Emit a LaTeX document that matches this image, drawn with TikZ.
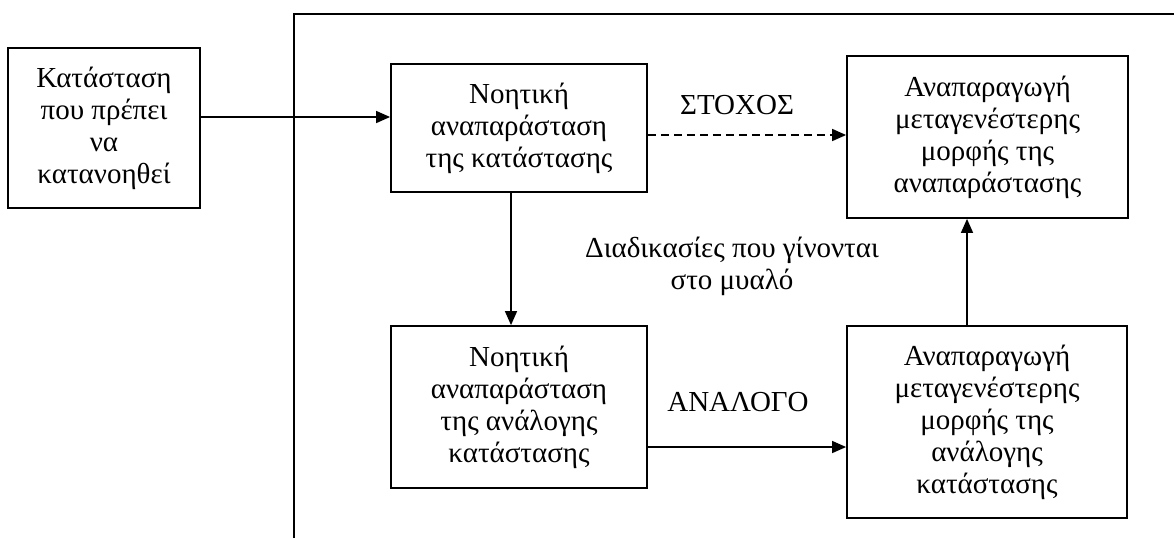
\documentclass[tikz,border=0pt]{standalone}
\usepackage{fontspec}
\setmainfont{Liberation Serif}
\usetikzlibrary{arrows.meta}
\tikzset{
  box/.style={draw, line width=1.8pt, inner sep=0pt, align=center, font=\fontsize{29}{32}\selectfont},
  lbl/.style={align=center, inner sep=0pt, font=\fontsize{29}{32}\selectfont},
  conn/.style={line width=1.5pt, -{Triangle[length=14pt,width=12pt]}},
  frame/.style={line width=1.8pt}
}
\begin{document}
\begin{tikzpicture}[x=1pt,y=-1pt]
\useasboundingbox (0,0) rectangle (1174,538);
% frame
\coordinate (f1) at (294,538);
\coordinate (f2) at (294,14);
\coordinate (f3) at (1174,14);
\draw[frame] (f1) -- (f2) -- (f3);
% boxes
\node[box, minimum width=192pt, minimum height=160pt] (A) at (104,128) {Κατάσταση\\που πρέπει\\να\\κατανοηθεί};
\node[box, minimum width=256pt, minimum height=128pt] (B) at (519,128) {Νοητική\\αναπαράσταση\\της κατάστασης};
\node[box, minimum width=281pt, minimum height=162pt] (C) at (987.5,137) {Αναπαραγωγή\\μεταγενέστερης\\μορφής της\\αναπαράστασης};
\node[box, minimum width=256pt, minimum height=162pt] (D) at (519,407) {Νοητική\\αναπαράσταση\\της ανάλογης\\κατάστασης};
\node[box, minimum width=280pt, minimum height=192pt] (E) at (987,422) {Αναπαραγωγή\\μεταγενέστερης\\μορφής της\\ανάλογης\\κατάστασης};
% labels
\node[lbl] (L1) at (737,105) {ΣΤΟΧΟΣ};
\node[lbl] (L2) at (738,402) {ΑΝΑΛΟΓΟ};
\node[lbl] (L3) at (732,266) {Διαδικασίες που γίνονται\\στο μυαλό};
% connectors
\coordinate (a1) at ([yshift=11pt]A.east);
\draw[conn] (a1) -- (a1 -| B.west);
\coordinate (b1) at ([yshift=-7pt]B.east);
\draw[conn, dash pattern=on 8pt off 5pt] (b1) -- (b1 -| C.west);
\coordinate (b2) at ([xshift=-8pt]B.south);
\draw[conn] (b2) -- (b2 |- D.north);
\coordinate (d1) at ([yshift=-40pt]D.east);
\draw[conn] (d1) -- (d1 -| E.west);
\coordinate (e1) at ([xshift=-20pt]E.north);
\draw[conn] (e1) -- (e1 |- C.south);
\end{tikzpicture}
\end{document}
